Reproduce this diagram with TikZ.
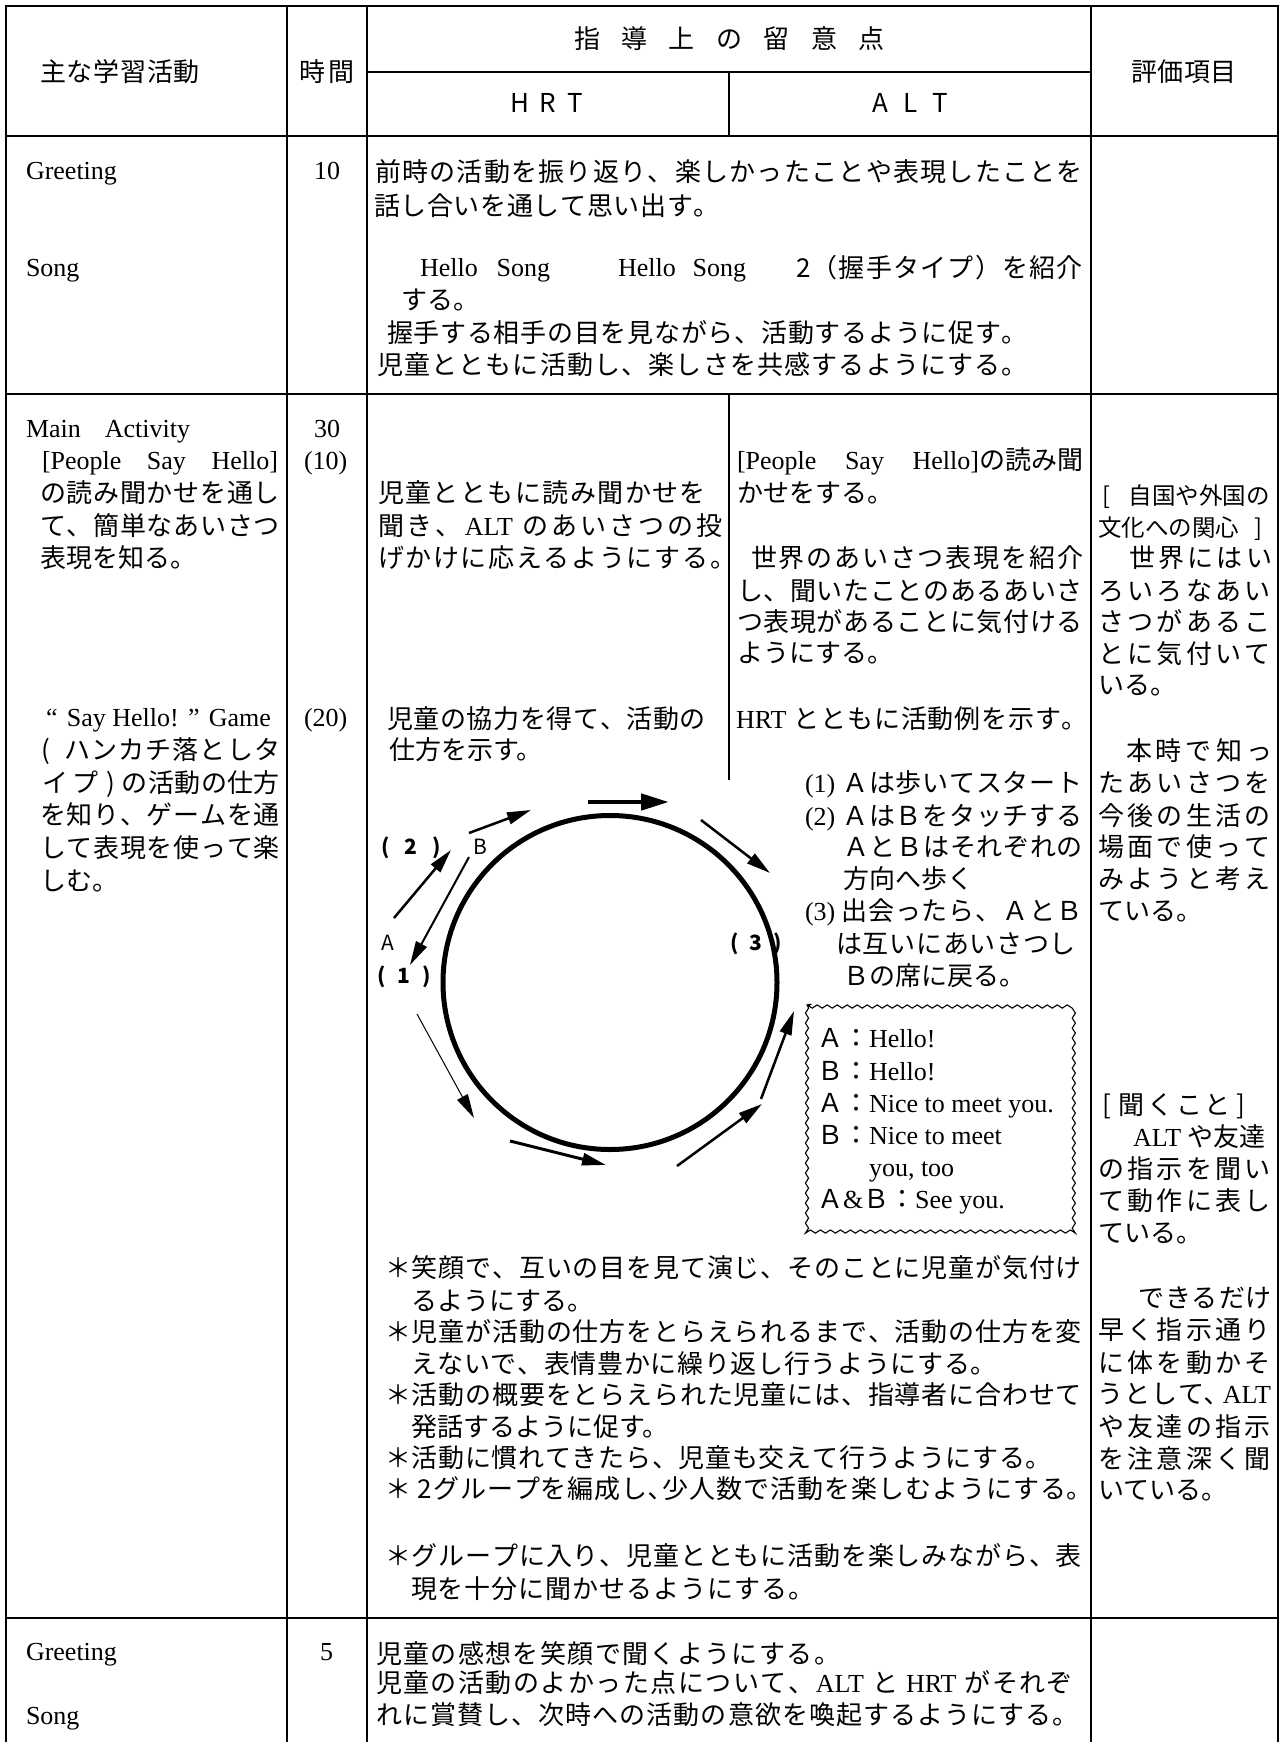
\documentclass[tikz,border=0pt]{standalone}
\usepackage{fontspec}
\setmainfont{Liberation Serif}
\newfontfamily\jp{Noto Sans CJK JP}
\newfontfamily\en{Liberation Serif}
\usetikzlibrary{arrows.meta,decorations.pathmorphing}
\makeatletter
\let\sp@end\relax
\def\sp@endmark{\sp@end}
\newcommand\spreadtext[1]{\sp@first#1\sp@end}
\def\sp@first#1{#1\sp@loop}
\def\sp@loop#1{\def\sp@arg{#1}\ifx\sp@arg\sp@endmark\else\hfil#1\expandafter\sp@loop\fi}
\makeatother
\newcommand\SP[2]{\hbox to #1pt{\spreadtext{#2}}}
\newcommand\E[1]{{\en #1}}
\newcommand\tx[4]{\node[txt] (#1) at (#2,#3) {#4};}
\tikzset{
  txt/.style={inner sep=0pt,outer sep=0pt,anchor=base west,font=\jp\fontsize{26}{30}\selectfont},
  lab/.style={inner sep=0pt,outer sep=0pt,anchor=center,font=\jp\fontsize{21}{24}\selectfont},
  grid/.style={line width=2.4pt},
  arr/.style={-{Triangle[length=24pt,width=12pt]}},
  wavy/.style={decorate,decoration={snake,segment length=10pt,amplitude=1.6pt},line width=1.1pt}
}
\begin{document}
\begin{tikzpicture}[x=1pt,y=-1pt]
\useasboundingbox (0,0) rectangle (1279,1742);
% ---------- table rules ----------
\draw[grid] (6,1742) -- (6,6) -- (1278,6) -- (1278,1742);
\draw[grid] (287,6) -- (287,1742);
\draw[grid] (367,6) -- (367,1742);
\draw[grid] (1091,6) -- (1091,1742);
\draw[grid] (367,72) -- (1091,72);
\draw[grid] (729,72) -- (729,136);
\draw[grid] (6,136) -- (1278,136);
\draw[grid] (6,394) -- (1278,394);
\draw[grid] (729,394) -- (729,780);
\draw[line width=2.8pt] (6,1618) -- (1278,1618);
% ---------- header ----------
\tx{h1}{40}{82}{\SP{160}{主な学習活動}}
\tx{h2}{299}{82}{\SP{56}{時間}}
\tx{h3}{574}{49}{\SP{311}{指導上の留意点}}
\tx{h4}{510}{113}{\SP{73}{HRT}}
\tx{h5}{872}{113}{\SP{76}{ALT}}
\tx{h6}{1131}{82}{\SP{106}{評価項目}}
% ---------- row 1 ----------
\tx{r1a}{26}{179}{\E{Greeting}}
\tx{r1b}{314}{179}{\E{10}}
\tx{r1c}{26}{276}{\E{Song}}
\tx{r1d}{375}{181}{\SP{708}{前時の活動を振り返り、楽しかったことや表現したことを}}
\tx{r1e}{374}{215}{\SP{346}{話し合いを通して思い出す。}}
\tx{r1f}{420}{276}{\hbox to 130pt{\en Hello\hfil Song}}
\tx{r1g}{618}{276}{\hbox to 128pt{\en Hello\hfil Song}}
\tx{r1h}{796}{277}{\SP{287}{2（握手タイプ）を紹介}}
\tx{r1i}{401}{309}{する。}
\tx{r1j}{387}{342}{\SP{641}{握手する相手の目を見ながら、活動するように促す。}}
\tx{r1k}{377}{374}{\SP{651}{児童とともに活動し、楽しさを共感するようにする。}}
% ---------- row 2: left column ----------
\tx{r2a}{26}{437}{\hbox to 164pt{\en Main\hfil Activity}}
\tx{r2b}{42}{469}{\hbox to 236pt{\en [People\hfil Say\hfil Hello]}}
\tx{r2c}{40}{502}{\SP{240}{の読み聞かせを通し}}
\tx{r2d}{40}{535}{\SP{240}{て、簡単なあいさつ}}
\tx{r2e}{40}{567}{表現を知る。}
\tx{r2f}{314}{437}{\E{30}}
\tx{r2g}{304}{469}{\E{(10)}}
\tx{r2q}{46}{726}{\hbox to 225pt{\en “\hfil Say Hello!\hfil ”\hfil Game}}
\tx{r2r}{41}{759}{(\hskip 14.5pt\SP{216}{ハンカチ落としタ}}
\tx{r2s}{42}{792}{\SP{57}{イプ}\hbox to 23pt{\hss)\hss}\SP{158}{の活動の仕方}}
\tx{r2t}{40}{824}{\SP{240}{を知り、ゲームを通}}
\tx{r2u}{40}{857}{\SP{240}{して表現を使って楽}}
\tx{r2v}{40}{890}{しむ。}
\tx{r2w}{304}{726}{\E{(20)}}
% ---------- row 2: HRT column ----------
\tx{r2h}{378}{502}{\SP{328}{児童とともに読み聞かせを}}
\tx{r2i}{378}{535}{\SP{344}{聞き、{\E{ALT\ }}のあいさつの投}}
\tx{r2j}{378}{567}{\SP{358}{げかけに応えるようにする。}}
\tx{r2x}{387}{728}{\SP{319}{児童の協力を得て、活動の}}
\tx{r2y}{389}{759}{仕方を示す。}
% ---------- row 2: ALT column ----------
\tx{r2k}{737}{469}{\hbox to 346pt{\en [People\hfil Say\hfil Hello]\jp の読み聞}}
\tx{r2l}{737}{502}{かせをする。}
\tx{r2m}{751}{567}{\SP{332}{世界のあいさつ表現を紹介}}
\tx{r2n}{737}{600}{\SP{346}{し、聞いたことのあるあいさ}}
\tx{r2o}{737}{631}{\SP{346}{つ表現があることに気付ける}}
\tx{r2p}{737}{662}{ようにする。}
\tx{r2z}{736}{728}{\SP{352}{{\E{HRT\ }}とともに活動例を示す。}}
\tx{i1}{805}{792}{\E{(1)}\hskip 7pt\SP{240}{Ａは歩いてスタート}}
\tx{i2}{805}{825}{\E{(2)}\hskip 7pt\SP{240}{ＡはＢをタッチする}}
\tx{i3}{843}{856}{\SP{240}{ＡとＢはそれぞれの}}
\tx{i4}{843}{888}{方向へ歩く}
\tx{i5}{805}{920}{\E{(3)}\hskip 6pt\SP{241}{出会ったら、ＡとＢ}}
\tx{i6}{836}{953}{\SP{240}{は互いにあいさつし}}
\tx{i7}{843}{985}{Ｂの席に戻る。}
% dialogue box
\draw[wavy] (807,1005) rectangle (1079,1230);
\tx{d1}{817}{1047}{Ａ：\E{Hello!}}
\tx{d2}{817}{1080}{Ｂ：\E{Hello!}}
\tx{d3}{817}{1112}{Ａ：\E{Nice to meet you.}}
\tx{d4}{817}{1144}{Ｂ：\E{Nice to meet}}
\tx{d5}{869}{1176}{\E{you, too}}
\tx{d6}{817}{1208}{Ａ\E{\&}Ｂ：\E{See you.}}
% ---------- circle diagram ----------
\draw[line width=5pt] (610,982.5) circle[radius=167pt];
\coordinate (a1s) at (588,802);  \coordinate (a1e) at (669,802);
\coordinate (a2s) at (701,820);  \coordinate (a2e) at (770,873);
\coordinate (a3s) at (761,1099); \coordinate (a3e) at (794,1011);
\coordinate (a4s) at (677,1166); \coordinate (a4e) at (762,1104);
\coordinate (a5s) at (510,1141); \coordinate (a5e) at (606,1165);
\coordinate (a6s) at (417,1014); \coordinate (a6e) at (474,1118);
\coordinate (a7s) at (469,857);  \coordinate (a7e) at (410,965);
\coordinate (a8s) at (394,918);  \coordinate (a8e) at (451,850);
\coordinate (a9s) at (469,833);  \coordinate (a9e) at (531,810);
\draw[line width=4.5pt,-{Triangle[length=28pt,width=16pt]}] (a1s) -- (a1e);
\draw[arr,line width=2.5pt] (a2s) -- (a2e);
\draw[arr,line width=2.5pt] (a3s) -- (a3e);
\draw[arr,line width=2.5pt] (a4s) -- (a4e);
\draw[arr,line width=3pt] (a5s) -- (a5e);
\draw[arr,line width=1pt] (a6s) -- (a6e);
\draw[arr,line width=2pt] (a7s) -- (a7e);
\draw[arr,line width=2.5pt] (a8s) -- (a8e);
\draw[arr,line width=2.5pt] (a9s) -- (a9e);
\node[lab] (l2) at (411,848) {\bfseries\hbox to 60pt{(\hfil 2\hfil )}};
\node[lab] (l1) at (404,977) {\bfseries\hbox to 53pt{(\hfil 1\hfil )}};
\node[lab] (l3) at (756,944) {\bfseries\hbox to 52pt{(\hfil 3\hfil )}};
\node[lab] (la) at (387.5,943) {A};
\node[lab] (lb) at (480.5,847) {B};
% ---------- row 2: merged notes ----------
\tx{b1}{385}{1277}{\SP{697}{＊笑顔で、互いの目を見て演じ、そのことに児童が気付け}}
\tx{b2}{411}{1310}{るようにする。}
\tx{b3}{385}{1341}{\SP{697}{＊児童が活動の仕方をとらえられるまで、活動の仕方を変}}
\tx{b4}{411}{1373}{\SP{586}{えないで、表情豊かに繰り返し行うようにする。}}
\tx{b5}{385}{1404}{\SP{697}{＊活動の概要をとらえられた児童には、指導者に合わせて}}
\tx{b6}{411}{1436}{発話するように促す。}
\tx{b7}{385}{1467}{\SP{667}{＊活動に慣れてきたら、児童も交えて行うようにする。}}
\tx{b8}{385}{1498}{\SP{708}{＊{\ 2}グループを編成し､少人数で活動を楽しむようにする。}}
\tx{b9}{385}{1565}{\SP{697}{＊グループに入り、児童とともに活動を楽しみながら、表}}
\tx{b10}{411}{1598}{\SP{403}{現を十分に聞かせるようにする。}}
% ---------- evaluation column ----------
\tx{e1}{1102}{504}{\fontsize{23.5}{28}\selectfont\hbox to 168pt{[\hfil 自国や外国の}}
\tx{e2}{1098}{536}{\fontsize{23.5}{28}\selectfont\hbox to 164pt{文化への関心\hfil ]}}
\tx{e3}{1129}{567}{\SP{143}{世界にはい}}
\tx{e4}{1098}{600}{\SP{173}{ろいろなあい}}
\tx{e5}{1098}{631}{\SP{173}{さつがあるこ}}
\tx{e6}{1098}{663}{\SP{173}{とに気付いて}}
\tx{e7}{1098}{694}{いる。}
\tx{e8}{1126}{760}{\SP{146}{本時で知っ}}
\tx{e9}{1098}{792}{\SP{173}{たあいさつを}}
\tx{e10}{1098}{825}{\SP{173}{今後の生活の}}
\tx{e11}{1098}{856}{\SP{173}{場面で使って}}
\tx{e12}{1098}{888}{\SP{173}{みようと考え}}
\tx{e13}{1098}{920}{ている。}
\tx{e14}{1102}{1114}{[\hskip 8pt\SP{112}{聞くこと}\hskip 6pt]}
\tx{e15}{1133}{1146}{\E{ALT\ }や友達}
\tx{e16}{1098}{1178}{\SP{173}{の指示を聞い}}
\tx{e17}{1098}{1210}{\SP{173}{て動作に表し}}
\tx{e18}{1098}{1242}{ている。}
\tx{e19}{1138}{1307}{\SP{134}{できるだけ}}
\tx{e20}{1098}{1339}{\SP{173}{早く指示通り}}
\tx{e21}{1098}{1372}{\SP{173}{に体を動かそ}}
\tx{e22}{1097}{1403}{\hbox to 174pt{\SP{108}{うとして}､\hfil\E{ALT}}}
\tx{e23}{1098}{1436}{\SP{173}{や友達の指示}}
\tx{e24}{1098}{1468}{\SP{173}{を注意深く聞}}
\tx{e25}{1098}{1499}{いている。}
% ---------- row 3 ----------
\tx{r3a}{26}{1660}{\E{Greeting}}
\tx{r3b}{320}{1660}{\E{5}}
\tx{r3c}{26}{1724}{\E{Song}}
\tx{r3d}{376}{1663}{\SP{464}{児童の感想を笑顔で聞くようにする。}}
\tx{r3e}{376}{1692}{\SP{697}{児童の活動のよかった点について、{\E{ALT\ }}と{\E{\ HRT\ }}がそれぞ}}
\tx{r3f}{376}{1724}{\SP{703}{れに賞賛し、次時への活動の意欲を喚起するようにする。}}
\end{tikzpicture}
\end{document}
